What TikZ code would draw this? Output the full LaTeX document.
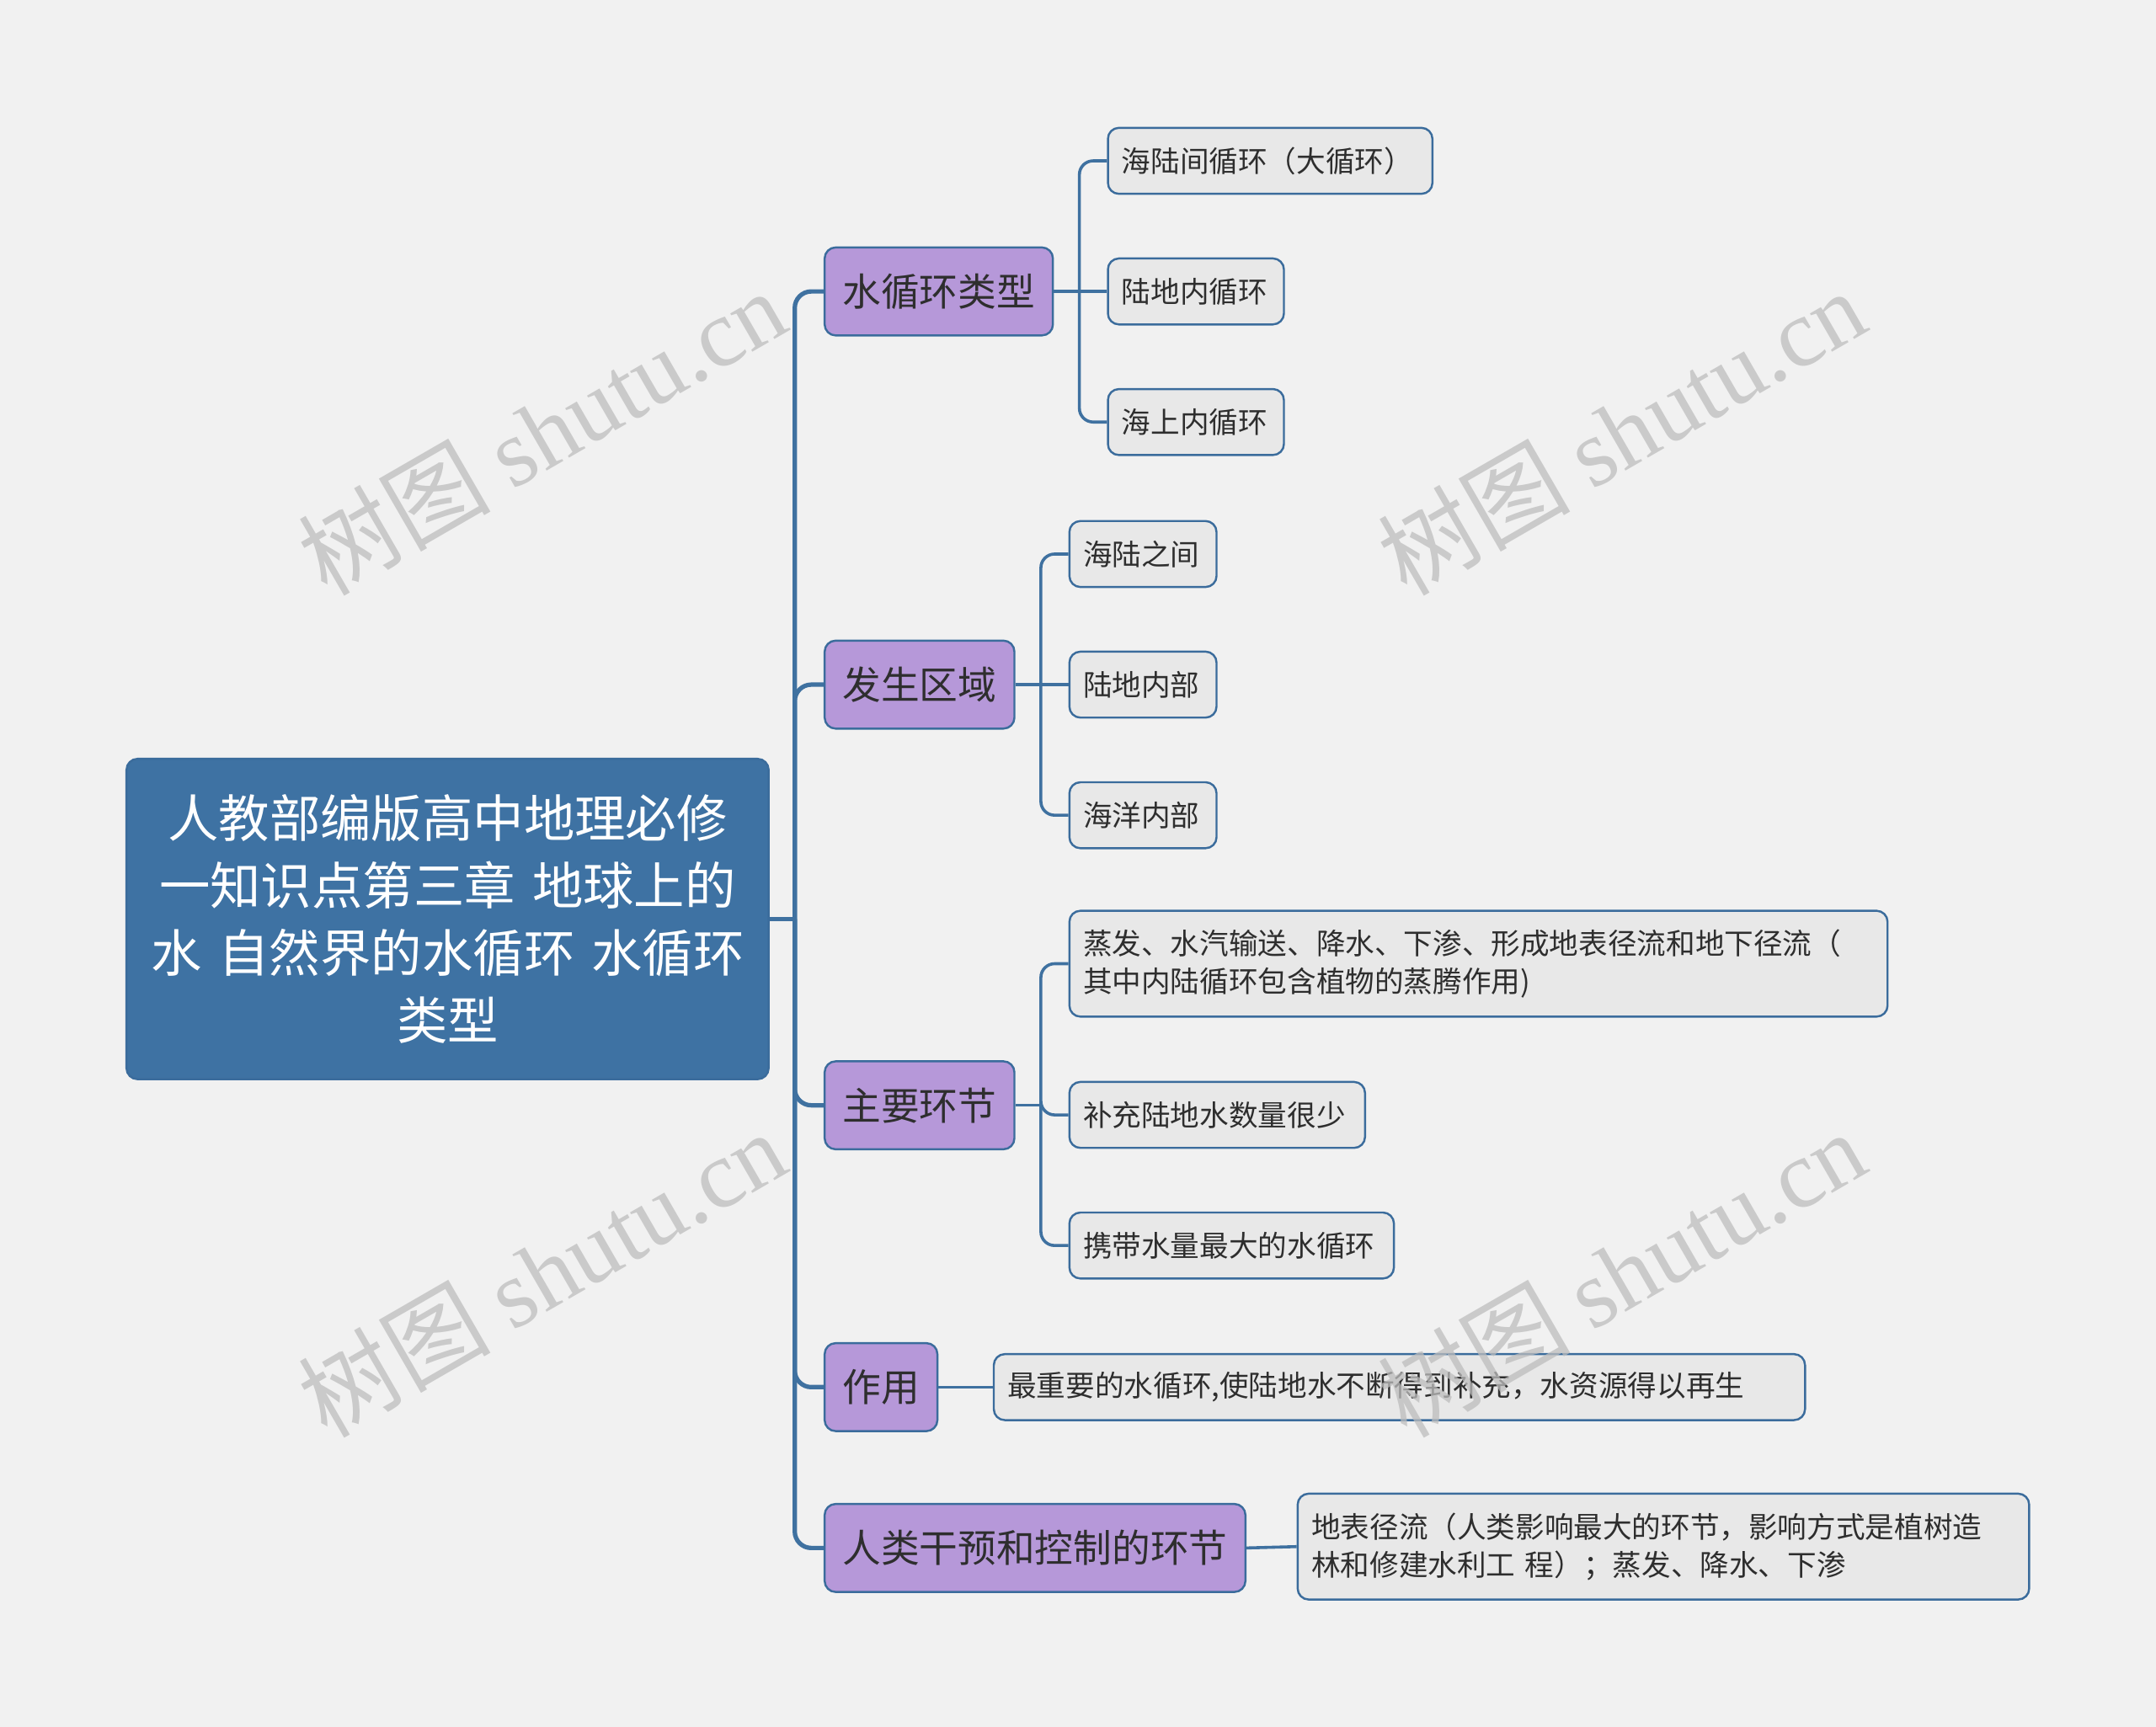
\documentclass[tikz,border=0pt]{standalone}
\usepackage{fontspec}
\setmainfont{Noto Sans CJK SC}
\newfontfamily\wmserif{Liberation Serif}
\usetikzlibrary{positioning}
\definecolor{bgcol}{HTML}{F1F1F1}
\definecolor{rootcol}{HTML}{3E72A3}
\definecolor{bordercol}{HTML}{3B6C9C}
\definecolor{linecol}{HTML}{3F71A0}
\definecolor{purplecol}{HTML}{B698D9}
\definecolor{leafcol}{HTML}{E8E8E8}
\definecolor{txtcol}{HTML}{2E2E2E}
\definecolor{wmcol}{HTML}{BDBDBD}
\tikzset{
  rootbox/.style={draw=bordercol, fill=rootcol, text=white, line width=0.75pt,
    rounded corners=4pt, inner xsep=3.75pt, inner ysep=0pt, text width=226pt,
    minimum height=116.5pt, align=center,
    font=\fontsize{18.5}{24.5}\selectfont},
  mainbox/.style={draw=bordercol, fill=purplecol, text=txtcol, line width=0.75pt,
    rounded corners=4pt, inner xsep=6.5pt, inner ysep=0pt, minimum height=32pt,
    anchor=west, font=\fontsize{14}{17}\selectfont},
  leafbox/.style={draw=bordercol, fill=leafcol, text=txtcol, line width=0.75pt,
    rounded corners=4pt, inner xsep=5pt, inner ysep=0pt, minimum height=24pt,
    anchor=west, align=left, font=\fontsize{10.6}{13.75}\selectfont},
  trunkline/.style={draw=linecol, line width=1.6pt, rounded corners=6pt},
  branchline/.style={draw=linecol, line width=1.1pt, rounded corners=5pt},
  wmark/.style={text=wmcol, opacity=0.75, rotate=30, inner sep=0pt,
    font=\fontsize{35}{38}\selectfont}
}
\begin{document}
\begin{tikzpicture}[x=0.5pt, y=-0.5pt]
\fill[bgcol] (0,0) rectangle (1568,1256);
\useasboundingbox (0,0) rectangle (1568,1256);

% root
\node[rootbox] (root) at (325.5,668.5) {人教部编版高中地理必修\\一知识点第三章 地球上的\\水 自然界的水循环 水循环\\类型};

% level 1
\node[mainbox] (n1) at (599,212) {水循环类型};
\node[mainbox] (n2) at (599,498) {发生区域};
\node[mainbox] (n3) at (599,804) {主要环节};
\node[mainbox] (n4) at (599,1009) {作用};
\node[mainbox] (n5) at (599,1126) {人类干预和控制的环节};

% level 2
\node[leafbox, text width=108pt] (a1) at (805,117) {海陆间循环（大循环）};
\node[leafbox, text width=54pt] (a2) at (805,212) {陆地内循环};
\node[leafbox, text width=54pt] (a3) at (805,307) {海上内循环};

\node[leafbox, text width=43.5pt] (b1) at (777,403) {海陆之间};
\node[leafbox, text width=43.5pt] (b2) at (777,498) {陆地内部};
\node[leafbox, text width=43.5pt] (b3) at (777,593) {海洋内部};

\node[leafbox, text width=287.5pt, minimum height=38.5pt] (c1) at (777,701) {蒸发、水汽输送、降水、下渗、形成地表径流和地下径流（\\其中内陆循环包含植物的蒸腾作用)};
\node[leafbox, text width=97.5pt] (c2) at (777,811) {补充陆地水数量很少};
\node[leafbox, text width=108pt] (c3) at (777,906) {携带水量最大的水循环};

\node[leafbox, text width=285pt] (d1) at (722,1009) {最重要的水循环,使陆地水不断得到补充，水资源得以再生};

\node[leafbox, text width=256pt, minimum height=38.5pt] (e1) at (943,1125) {地表径流（人类影响最大的环节，影响方式是植树造\\林和修建水利工 程）；蒸发、降水、下渗};

% connectors
\coordinate (tj) at (578,668.5);
\draw[trunkline] (root.east) -- (tj);
\draw[trunkline] (tj) |- (n1.west);
\draw[trunkline] (tj) |- (n2.west);
\draw[trunkline] (tj) |- (n3.west);
\draw[trunkline] (tj) |- (n4.west);
\draw[trunkline] (tj) |- (n5.west);

\coordinate (j1) at (785,212);
\draw[branchline] (n1.east) -- (j1);
\draw[branchline] (j1) |- (a1.west);
\draw[branchline] (j1) -- (a2.west);
\draw[branchline] (j1) |- (a3.west);

\coordinate (j2) at (757,498);
\draw[branchline] (n2.east) -- (j2);
\draw[branchline] (j2) |- (b1.west);
\draw[branchline] (j2) -- (b2.west);
\draw[branchline] (j2) |- (b3.west);

\coordinate (j3) at (757,804);
\draw[branchline] (n3.east) -- (j3);
\draw[branchline] (j3) |- (c1.west);
\draw[branchline] (j3) |- (c2.west);
\draw[branchline] (j3) |- (c3.west);

\draw[branchline] (n4.east) -- (d1.west);
\draw[branchline] (n5.east) -- (e1.west);

% watermarks
\node[wmark] (w1) at (394,314) {树图 {\wmserif shutu.cn}};
\node[wmark] (w2) at (1179,314) {树图 {\wmserif shutu.cn}};
\node[wmark] (w3) at (394,926) {树图 {\wmserif shutu.cn}};
\node[wmark] (w4) at (1179,926) {树图 {\wmserif shutu.cn}};
\end{tikzpicture}
\end{document}
